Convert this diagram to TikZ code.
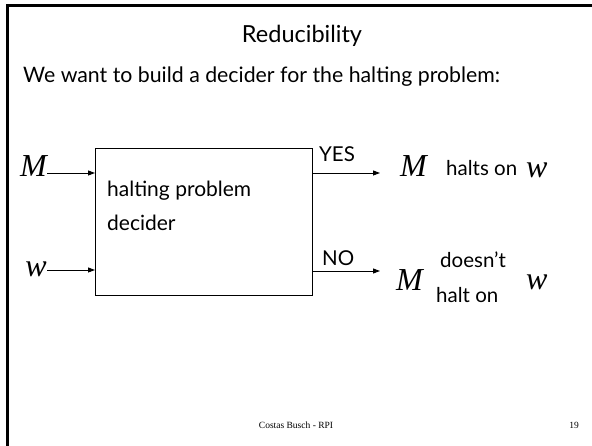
\documentclass[tikz,border=0pt]{standalone}
\usepackage{fontspec}
\setmainfont{Lato}
\newfontfamily\tnr{Liberation Serif}
\usetikzlibrary{positioning,arrows.meta}

\tikzset{
  var/.style={font=\tnr\itshape\fontsize{32}{32}\selectfont, inner sep=0pt},
  note/.style={font=\fontsize{20.5}{20.5}\selectfont, inner sep=0pt},
  flow/.style={->, line width=0.9pt},
}

\begin{document}
\begin{tikzpicture}[x=1pt,y=-1pt,>={Triangle[length=7pt,width=5pt]}]
  \useasboundingbox (0,0) rectangle (592,446);
  \draw[line width=3pt] (7,446) -- (7,6) -- (592,6);
  \node[font=\fontsize{23.5}{23.5}\selectfont, anchor=base, inner sep=0pt] (title) at (302,43) {Reducibility};
  \node[font=\fontsize{21.3}{21.3}\selectfont, anchor=base west, inner sep=0pt] (intro) at (23,83) {We want to build a decider for the halting problem:};
  % the decider box
  \node[draw, line width=0.9pt, minimum width=217, minimum height=147, anchor=north west, inner sep=0pt] (dec) at (95,148) {};
  \node[note, anchor=base west, font=\fontsize{21}{21}\selectfont] (declbl) at (107,197) {halting problem};
  \node[note, anchor=base west, font=\fontsize{21}{21}\selectfont] (declbl2) at (107,231) {decider};
  % inputs
  \coordinate (rowM) at (0,173);
  \coordinate (roww) at (0,270);
  \node[var, anchor=base east] (inM) at (47,177) {M};
  \node[var, anchor=base east] (inw) at (47,277) {w};
  \draw[flow] (inM.east |- rowM) -- (dec.west |- rowM);
  \draw[flow] (inw.east |- roww) -- (dec.west |- roww);
  % outputs
  \coordinate (yes) at (380,173);
  \coordinate (no) at (380,271);
  \draw[flow] (dec.east |- yes) -- (yes);
  \draw[flow] (dec.east |- no) -- (no);
  \node[note, anchor=base west] (yeslbl) at (319,162) {YES};
  \node[note, anchor=base west] (nolbl) at (322,266) {NO};
  \node[var, anchor=base west] (outM) at (400,177) {M};
  \node[note, anchor=base west] (halts) at (446,176) {halts on};
  \node[var, anchor=base west] (outw) at (526,178) {w};
  \node[var, anchor=base west] (noM) at (396,291) {M};
  \node[note, anchor=base west] (doesnt) at (440,268) {doesn't};
  \node[note, anchor=base west] (halton) at (436,303) {halt on};
  \node[var, anchor=base west] (now) at (526,290) {w};
  % footer
  \node[font=\tnr\fontsize{9.5}{9.5}\selectfont] (foot) at (296,425) {Costas Busch - RPI};
  \node[font=\tnr\fontsize{9.5}{9.5}\selectfont] (page) at (574,425) {19};
\end{tikzpicture}
\end{document}
